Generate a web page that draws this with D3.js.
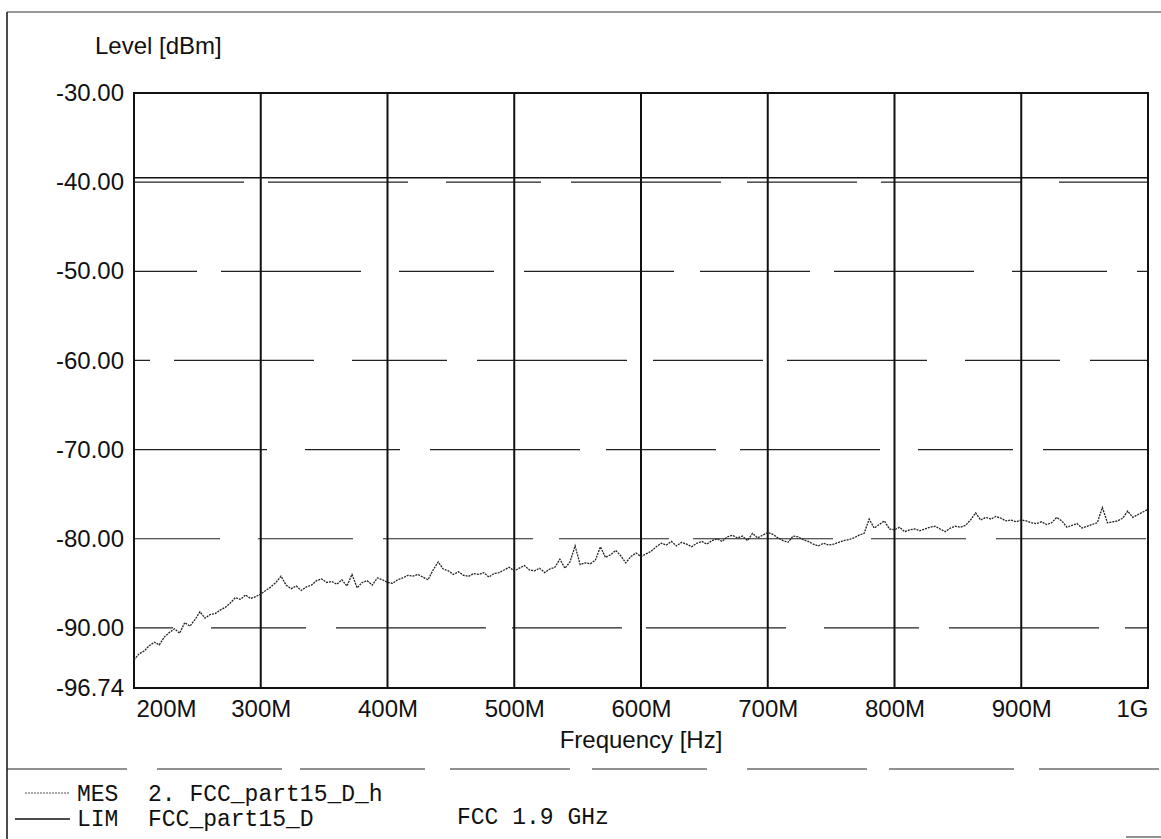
<!DOCTYPE html>
<html>
<head>
<meta charset="utf-8">
<script src="https://cdn.jsdelivr.net/npm/d3@7"></script>
<style>
  html, body { margin: 0; padding: 0; background: #fff; }
  svg { display: block; }
</style>
</head>
<body>
<svg id="chart" width="1161" height="839"></svg>
<script>
// ---------------- DATA ----------------
const yTickValues = [-30, -40, -50, -60, -70, -80, -90, -96.74];
const yTickLabels = ["-30.00", "-40.00", "-50.00", "-60.00", "-70.00", "-80.00", "-90.00", "-96.74"];
const xTickValuesMHz = [200, 300, 400, 500, 600, 700, 800, 900, 1000];
const xTickLabels = ["200M", "300M", "400M", "500M", "600M", "700M", "800M", "900M", "1G"];

// LIM: FCC_part15_D limit line
const limFreqMHz = [200, 1000];
const limLevel = [-39.5, -39.5];

// MES: 2. FCC_part15_D_h (frequency in MHz, level in dBm)
const mesFreqMHz = [
  200,204,208,212,216,220,224,228,232,236,240,244,248,252,256,260,264,268,272,276,
  280,284,288,292,296,300,304,308,312,316,320,324,328,332,336,340,344,348,352,356,
  360,364,368,372,376,380,384,388,392,396,400,404,408,412,416,420,424,428,432,436,
  440,444,448,452,456,460,464,468,472,476,480,484,488,492,496,500,504,508,512,516,
  520,524,528,532,536,540,544,548,552,556,560,564,568,572,576,580,584,588,592,596,
  600,604,608,612,616,620,624,628,632,636,640,644,648,652,656,660,664,668,672,676,
  680,684,688,692,696,700,704,708,712,716,720,724,728,732,736,740,744,748,752,756,
  760,764,768,772,776,780,784,788,792,796,800,804,808,812,816,820,824,828,832,836,
  840,844,848,852,856,860,864,868,872,876,880,884,888,892,896,900,904,908,912,916,
  920,924,928,932,936,940,944,948,952,956,960,964,968,972,976,980,984,988,992,996,
  1000
];
const mesLevel = [
  -93.6,-92.9,-92.6,-92.0,-91.6,-91.9,-91.0,-90.5,-90.1,-90.6,-89.4,-89.8,-89.1,-88.2,-88.9,-88.5,-88.4,-88.0,-87.7,-87.2,
  -86.6,-86.8,-86.3,-86.7,-86.5,-86.2,-85.8,-85.4,-84.9,-84.2,-85.2,-85.6,-85.3,-85.8,-85.4,-85.2,-84.7,-84.5,-84.9,-84.8,
  -85.1,-84.6,-85.3,-84.0,-85.5,-84.9,-84.7,-85.2,-84.4,-84.6,-84.9,-85.0,-84.6,-84.4,-84.1,-84.2,-84.0,-84.3,-84.6,-83.5,
  -82.6,-83.4,-83.6,-84.0,-83.7,-84.1,-84.2,-83.9,-84.0,-83.8,-84.3,-83.9,-83.8,-83.5,-83.2,-83.6,-83.3,-83.0,-83.5,-83.6,
  -83.3,-83.8,-83.4,-83.2,-82.3,-83.3,-82.6,-80.8,-82.9,-82.7,-82.8,-82.4,-80.9,-82.1,-81.8,-81.3,-81.9,-82.7,-82.0,-81.6,
  -82.0,-81.7,-81.4,-80.9,-80.5,-80.7,-80.3,-80.8,-80.4,-80.6,-80.9,-80.5,-80.3,-80.6,-80.2,-80.0,-80.3,-79.8,-79.6,-79.9,
  -79.7,-80.2,-79.4,-79.9,-79.6,-79.3,-79.5,-79.9,-80.2,-80.4,-79.7,-79.8,-80.1,-80.3,-80.6,-80.8,-80.5,-80.7,-80.6,-80.4,
  -80.2,-80.1,-79.9,-79.6,-79.4,-77.8,-78.8,-78.4,-78.0,-78.9,-79.0,-78.7,-79.2,-79.0,-78.9,-79.1,-78.9,-78.7,-78.6,-78.9,
  -79.2,-78.8,-78.6,-78.7,-78.5,-77.9,-77.1,-77.9,-77.6,-77.8,-77.5,-77.7,-78.0,-77.9,-78.1,-77.9,-78.0,-78.2,-78.3,-78.1,
  -78.4,-78.2,-77.6,-78.0,-78.7,-78.5,-78.3,-78.8,-78.6,-78.4,-78.2,-76.5,-78.2,-78.1,-78.0,-77.7,-76.9,-77.6,-77.3,-77.0,
  -76.7
];

// Legend texts
const legendKeys = ["MES", "LIM"];
const legendNames = ["2. FCC_part15_D_h", "FCC_part15_D"];
const subtitle = "FCC 1.9 GHz";

// ---------------- DRAW ----------------
(function () {
const svg = d3.select("#chart");
const pL = 134, pR = 1148, pT = 93, pB = 688;
const sansFont = "'Liberation Sans', Arial, Helvetica, sans-serif";
const monoFont = "'Liberation Mono', 'Courier New', monospace";
const fs = 24, mfs = 23;

const x = d3.scaleLinear().domain([200, 1000]).range([pL, pR]);
const y = d3.scaleLinear().domain([-96.74, -30]).range([pB, pT]);

// outer page frame
svg.append("line").attr("x1", 7).attr("x2", 7).attr("y1", 12).attr("y2", 839)
  .attr("stroke", "#111").attr("stroke-width", 1.5);
svg.append("line").attr("x1", 7).attr("x2", 1161).attr("y1", 12).attr("y2", 12)
  .attr("stroke", "#333").attr("stroke-width", 1);
svg.append("line").attr("x1", 7).attr("x2", 1161).attr("y1", 769).attr("y2", 769)
  .attr("stroke", "#222").attr("stroke-width", 1.2).attr("stroke-dasharray", "120 30 125 18 125 25 120 22 115 40 120 22 125 25");
svg.append("line").attr("x1", 1126).attr("x2", 1161).attr("y1", 837).attr("y2", 837)
  .attr("stroke", "#222").attr("stroke-width", 1.2);

// horizontal gridlines (broken)
const hGrid = yTickValues.filter(v => v > -96 && v < -30);
svg.append("g").selectAll("line").data(hGrid).join("line")
  .attr("x1", pL).attr("x2", pR)
  .attr("y1", d => y(d)).attr("y2", d => y(d))
  .attr("stroke", "#222").attr("stroke-width", 1.2)
  .attr("stroke-dasharray", "110 24 140 38 95 30 150 26")
  .attr("stroke-dashoffset", (d, i) => i * 47);

// vertical gridlines (solid)
svg.append("g").selectAll("line").data(xTickValuesMHz.slice(1, -1)).join("line")
  .attr("x1", d => x(d)).attr("x2", d => x(d))
  .attr("y1", pT).attr("y2", pB)
  .attr("stroke", "#111").attr("stroke-width", 2);

// plot frame
svg.append("rect").attr("x", pL).attr("y", pT)
  .attr("width", pR - pL).attr("height", pB - pT)
  .attr("fill", "none").attr("stroke", "#111").attr("stroke-width", 2);

// limit line
const limData = limFreqMHz.map((f, i) => [f, limLevel[i]]);
svg.append("path").datum(limData)
  .attr("d", d3.line().x(d => x(d[0])).y(d => y(d[1])))
  .attr("fill", "none").attr("stroke", "#111").attr("stroke-width", 1.5);

// measurement trace
const mesData = mesFreqMHz.map((f, i) => [f, mesLevel[i]]);
svg.append("path").datum(mesData)
  .attr("d", d3.line().x(d => x(d[0])).y(d => y(d[1])))
  .attr("fill", "none").attr("stroke", "#222").attr("stroke-width", 1.3)
  .attr("stroke-dasharray", "2 1");

// y axis labels
const yAxis = d3.axisLeft(y).tickValues(yTickValues)
  .tickFormat((d, i) => yTickLabels[i]).tickSize(0).tickPadding(10);
const gy = svg.append("g").attr("transform", `translate(${pL},0)`).call(yAxis);
gy.select(".domain").remove();
gy.selectAll("text").attr("font-family", sansFont).attr("font-size", fs).attr("fill", "#111");

// x axis labels
const xAxis = d3.axisBottom(x).tickValues(xTickValuesMHz)
  .tickFormat((d, i) => xTickLabels[i]).tickSize(0).tickPadding(12);
const gx = svg.append("g").attr("transform", `translate(0,${pB})`).call(xAxis);
gx.select(".domain").remove();
gx.selectAll("text").attr("font-family", sansFont).attr("font-size", fs).attr("fill", "#111")
  .attr("text-anchor", (d, i) => i === 0 ? "start" : (i === xTickValuesMHz.length - 1 ? "end" : "middle"))
  .attr("dx", (d, i) => i === 0 ? 2 : 0);

// axis titles
svg.append("text").attr("x", 95).attr("y", 54)
  .attr("font-family", sansFont).attr("font-size", fs).attr("fill", "#111")
  .text("Level [dBm]");
svg.append("text").attr("x", (pL + pR) / 2).attr("y", 748).attr("text-anchor", "middle")
  .attr("font-family", sansFont).attr("font-size", fs).attr("fill", "#111")
  .text("Frequency [Hz]");

// legend
const legY = [793, 819];
const legBase = [801, 826];
svg.append("line").attr("x1", 25).attr("x2", 70).attr("y1", legY[0]).attr("y2", legY[0])
  .attr("stroke", "#555").attr("stroke-width", 1.2).attr("stroke-dasharray", "2 1");
svg.append("line").attr("x1", 15).attr("x2", 70).attr("y1", legY[1]).attr("y2", legY[1])
  .attr("stroke", "#111").attr("stroke-width", 1.3);
legendKeys.forEach((k, i) => {
  svg.append("text").attr("x", 77).attr("y", legBase[i])
    .attr("font-family", monoFont).attr("font-size", mfs).attr("fill", "#111").text(k);
  svg.append("text").attr("x", 148).attr("y", legBase[i])
    .attr("font-family", monoFont).attr("font-size", mfs).attr("fill", "#111").text(legendNames[i]);
});
svg.append("text").attr("x", 457).attr("y", 824)
  .attr("font-family", monoFont).attr("font-size", mfs).attr("fill", "#111").text(subtitle);
})();
</script>
</body>
</html>
